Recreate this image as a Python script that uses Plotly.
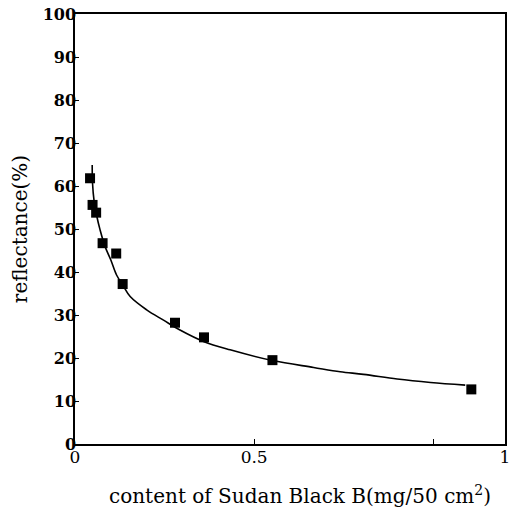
import plotly.graph_objects as go

# measured points
content = [0.042, 0.049, 0.059, 0.077, 0.115, 0.133, 0.279, 0.360, 0.551, 1.106]
reflectance = [61.8, 55.6, 53.8, 46.7, 44.3, 37.2, 28.2, 24.8, 19.5, 12.7]

# fitted curve
curve_x = [0.048, 0.049, 0.053, 0.061, 0.070, 0.084, 0.100, 0.116, 0.133, 0.154,
           0.200, 0.247, 0.293, 0.360, 0.433, 0.551, 0.666, 0.740, 0.805, 0.899,
           0.992, 1.089]
curve_y = [64.9, 60.6, 56.7, 52.9, 49.8, 45.9, 42.8, 39.3, 37.0, 34.3,
           31.2, 28.8, 26.5, 23.8, 21.9, 19.4, 17.8, 16.8, 16.2, 15.1,
           14.3, 13.7]

x_tickvals = [0, 0.5, 1.0, 1.2]
x_ticktext = ["0", "0.5", "", "1"]
y_tickvals = [0, 10, 20, 30, 40, 50, 60, 70, 80, 90, 100]

x_title = "content of Sudan Black B(mg/50 cm<sup>2</sup>)"
y_title = "reflectance(%)"

font_family = "DejaVu Serif"

fig = go.Figure()
fig.add_trace(go.Scatter(x=curve_x, y=curve_y, mode="lines",
                         line=dict(color="black", width=1.6, shape="spline"),
                         showlegend=False, hoverinfo="skip"))
fig.add_trace(go.Scatter(x=content, y=reflectance, mode="markers",
                         marker=dict(symbol="square", size=10, color="black"),
                         showlegend=False))

# page body has an 8px default margin; size the figure to compensate
fig.update_layout(
    width=509, height=502,
    margin=dict(l=67, r=12, t=6, b=66),
    paper_bgcolor="white", plot_bgcolor="white",
    font=dict(family=font_family, color="black", size=16),
    xaxis=dict(
        range=[0, 1.2], showgrid=False, zeroline=False, automargin=False,
        showline=True, linecolor="black", linewidth=1.5, mirror=True,
        tickvals=x_tickvals, ticktext=x_ticktext,
        ticks="inside", ticklen=5, tickcolor="black", tickwidth=1.2,
        tickfont=dict(size=17, family=font_family),
        ticklabelstandoff=-3, ticklabeloverflow="allow",
    ),
    yaxis=dict(
        range=[0, 100], showgrid=False, zeroline=False, automargin=False,
        showline=True, linecolor="black", linewidth=1.5, mirror=True,
        tickvals=y_tickvals,
        ticks="inside", ticklen=4, tickcolor="black", tickwidth=1.2,
        tickfont=dict(size=16, family=font_family, weight="bold"),
        ticklabelstandoff=-6, ticklabeloverflow="allow",
        title=dict(text=y_title, font=dict(size=20, family=font_family),
                   standoff=16),
    ),
    annotations=[dict(text=x_title, xref="paper", yref="paper", x=0.5, y=0,
                      xanchor="center", yanchor="middle", xshift=10, yshift=-51,
                      showarrow=False, font=dict(size=20, family=font_family))],
)

fig.write_html("out.html")
